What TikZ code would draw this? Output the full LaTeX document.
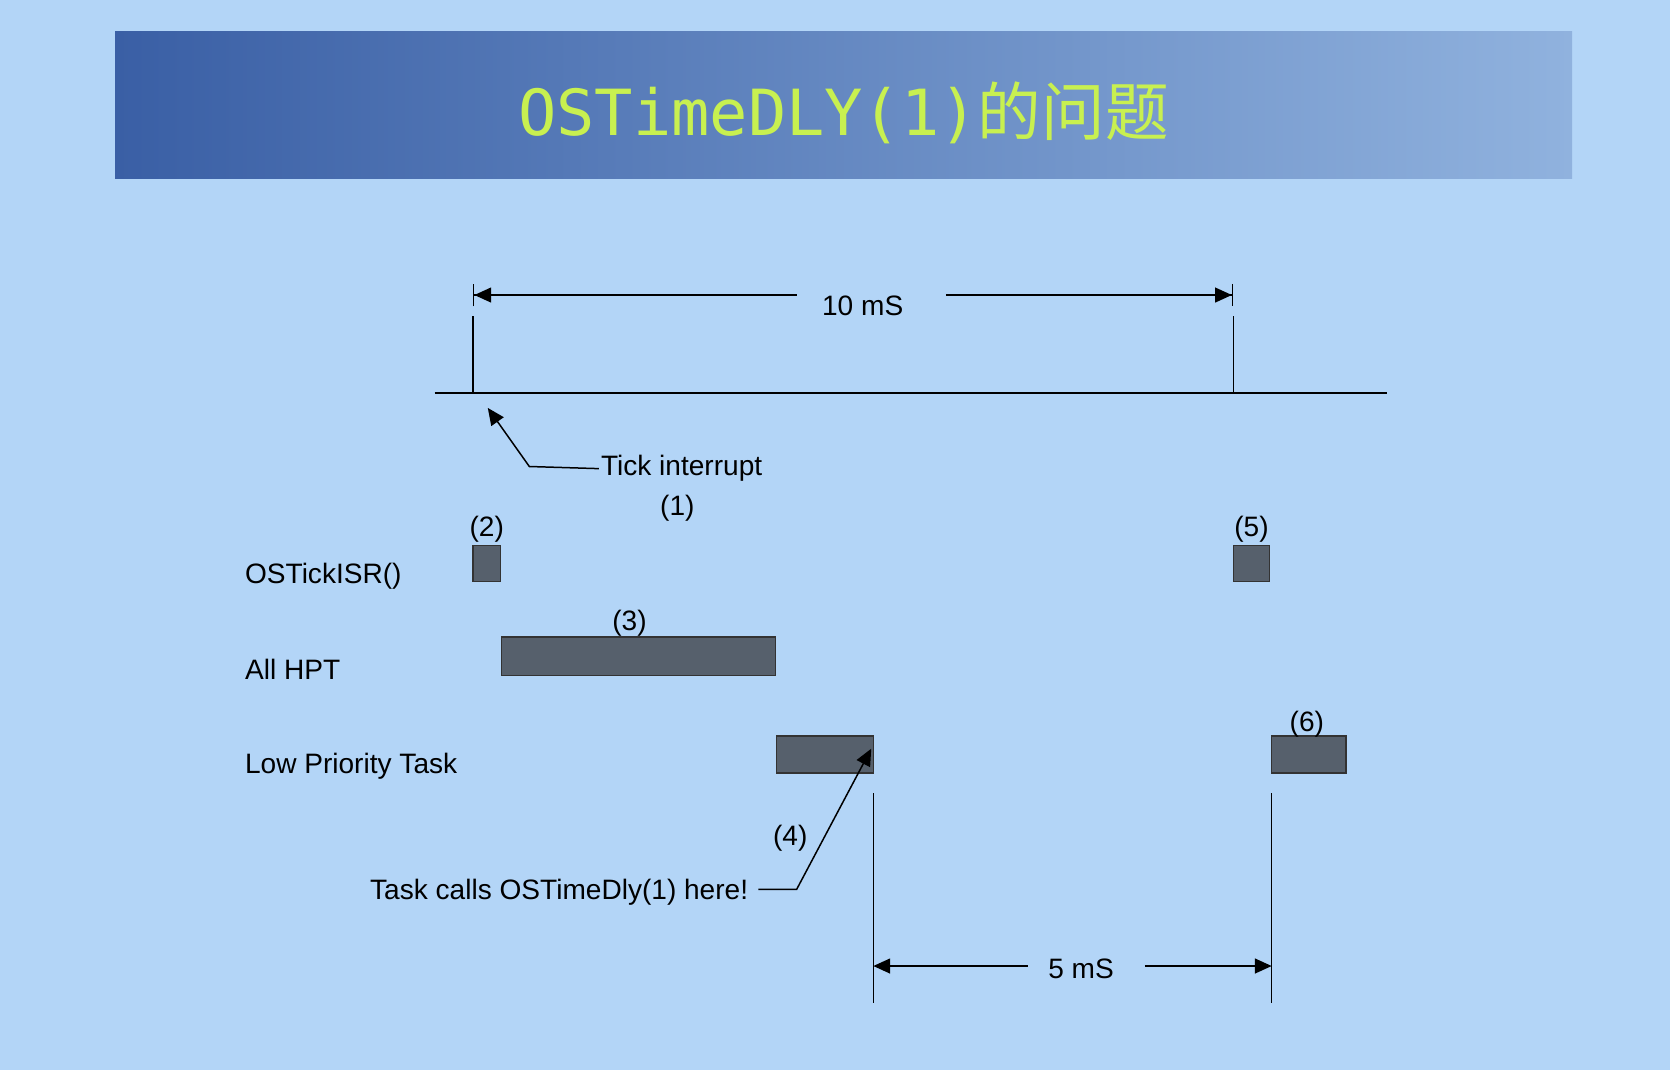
\documentclass[tikz,border=0pt]{standalone}
\usepackage{fontspec}
\setmainfont{Liberation Sans}
\newfontfamily\titlemono{DejaVu Sans Mono}
\newfontfamily\cjk{Noto Sans CJK SC}
\usetikzlibrary{positioning,arrows.meta,calc}
\definecolor{bgblue}{HTML}{B3D5F7}
\definecolor{bandL}{HTML}{3A5FA5}
\definecolor{bandR}{HTML}{90B2DE}
\definecolor{titlegreen}{HTML}{C8F050}
\definecolor{taskgray}{HTML}{56606C}
\tikzset{
  >={Triangle[length=9pt,width=8pt]},
  lbl/.style = {font=\fontsize{15}{17}\selectfont, inner sep=1pt},
  taskbox/.style = {draw=black!80, fill=taskgray, thick},
  dimline/.style = {thick, {Bar[width=14pt]Triangle[length=9pt,width=8pt]}-{Triangle[length=9pt,width=8pt]Bar[width=14pt]}}
}

\begin{document}
\begin{tikzpicture}[x=0.02cm,y=-0.02cm]
  \fill[bgblue] (0,0) rectangle (1568,1005);
  \useasboundingbox (0,0) rectangle (1568,1005);
  % title band
  \shade[left color=bandL, right color=bandR] (108,30) rectangle (1476,168);
  \node[titlegreen, font=\fontsize{34}{38}\selectfont] (title) at (792,106)
    {\titlemono OSTimeDLY(1)\cjk 的问题};

  % time axis
  \coordinate (axisL) at (408,369);
  \coordinate (axisR) at (1302,369);
  \draw[thick] (axisL) -- (axisR);
  \coordinate (tickA) at (444,369);
  \coordinate (tickB) at (1158,369);
  \draw[thick] (tickA) -- ++(0,-72);
  \draw[thick] (tickB) -- ++(0,-72);
  \node[lbl] (tenms) at (810,287) {10 mS};
  \draw[thick,{Bar[width=12pt]Triangle[length=9pt,width=8pt]}-] (444,277) -- (748,277);
  \draw[thick,-{Triangle[length=9pt,width=8pt]Bar[width=12pt]}] (888,277) -- (1158,277);

  % tick interrupt
  \node[lbl] (tickint) at (640,440) {Tick interrupt};
  \node[lbl] (one) at (636,477) {(1)};
  \draw[thick,->] (tickint.west) -- (497,438) -- (458,383);

  % rows
  \node[lbl,anchor=west] (isr) at (228,541) {OSTickISR()};
  \node[lbl,anchor=west] (hpt) at (228,628) {All HPT};
  \node[lbl,anchor=west] (low) at (228,719) {Low Priority Task};

  \draw[taskbox] (444,512) rectangle (470,546);
  \node[lbl] (two) at (457,497) {(2)};
  \draw[taskbox] (1158,512) rectangle (1192,546);
  \node[lbl] (five) at (1175,497) {(5)};
  \draw[taskbox] (471,598) rectangle (728,634);
  \node[lbl] (three) at (591,585) {(3)};
  \draw[taskbox] (729,691) rectangle (820,726);
  \draw[taskbox] (1194,691) rectangle (1264,726);
  \node[lbl] (six) at (1227,680) {(6)};

  % delay call
  \node[lbl] (calls) at (525,838) {Task calls OSTimeDly(1) here!};
  \node[lbl] (four) at (742,787) {(4)};
  \draw[thick,->] (712,835) -- (748,835) -- (818,703);

  % 5 ms
  \draw[thick] (820,745) -- (820,942);
  \draw[thick] (1194,745) -- (1194,942);
  \node[lbl] (fivems) at (1015,910) {5 mS};
  \draw[thick,<-] (820,907) -- (965,907);
  \draw[thick,->] (1075,907) -- (1194,907);
\end{tikzpicture}
\end{document}
